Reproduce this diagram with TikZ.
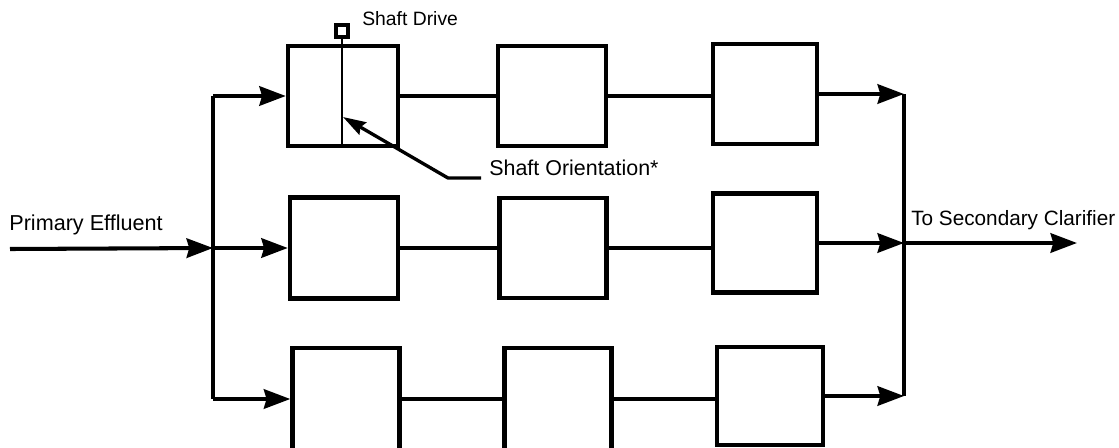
\documentclass[tikz,border=0pt]{standalone}
\usepackage{fontspec}
\setmainfont{Liberation Sans}
\usetikzlibrary{arrows.meta}
\begin{document}
\begin{tikzpicture}[x=0.02cm,y=-0.02cm,
  flow/.style={line width=2.3pt,-{Stealth[length=15pt,width=11pt,inset=1.5pt]}},
  pipe/.style={line width=2.3pt},
  lbl/.style={font=\fontsize{#1}{14}\selectfont,inner sep=0pt,anchor=base west},
  bx/.style 2 args={draw,line width=2.5pt,inner sep=0pt,minimum width=#1*0.02cm,minimum height=#2*0.02cm},
]
\useasboundingbox (0,0) rectangle (1119,447);
% boxes
\node[bx={110}{100}] (b11) at (343,96) {};
\node[bx={108}{100}] (b12) at (552,96) {};
\node[bx={104}{100}] (b13) at (765,94) {};
\node[bx={108}{101}] (b21) at (344,248) {};
\node[bx={107}{100}] (b22) at (553,248) {};
\node[bx={104}{99}]  (b23) at (765,243) {};
\node[bx={107}{102}] (b31) at (346,399) {};
\node[bx={107}{102}] (b32) at (558,399) {};
\node[bx={106}{98}]  (b33) at (770,396) {};
% shaft drive
\node[draw,line width=1.8pt,minimum size=12*0.02cm,inner sep=0pt] (sq) at (342,31) {};
\draw[line width=1.6pt] (sq.south) -- (sq.south |- b11.south);
\coordinate (shaftpt) at (343,117);
\coordinate (corner) at (448,178);
\coordinate (lo) at (481,178);
\draw[line width=1.9pt,-{Stealth[length=13pt,width=8pt,inset=1.5pt]}] (lo) -- (corner) -- (shaftpt);
% labels
\node[lbl=11] (sd) at (362,25) {Shaft Drive};
\node[lbl=12.2] (so) at (489,175) {Shaft Orientation*};
\node[lbl=12.3] (pe) at (9,230) {Primary Effluent};
\node[lbl=11.8] (tsc) at (911,225) {To Secondary Clarifier};
% left distribution
\coordinate (in) at (10,249);
\coordinate (jT) at (213,96);
\coordinate (jM) at (213,248);
\coordinate (jB) at (213,399);
\draw[flow] (in) -- (jM);
\draw[pipe] (jT) -- (jB);
\draw[flow] (jT) -- (b11.west);
\draw[flow] (jM) -- (b21.west);
\draw[flow] (jB) -- (b31.west);
% rows
\draw[pipe] (b11.east) -- (b12.west);
\draw[pipe] (b12.east) -- (b13.west |- b12.east);
\draw[pipe] (b21.east) -- (b22.west);
\draw[pipe] (b22.east) -- (b23.west |- b22.east);
\draw[pipe] (b31.east) -- (b32.west);
\draw[pipe] (b32.east) -- (b33.west |- b32.east);
% right collection
\coordinate (rT) at (904,94);
\coordinate (rM) at (904,243);
\coordinate (rB) at (904,396);
\coordinate (out) at (1077,243);
\draw[pipe] (rT) -- (rB);
\draw[flow] (b13.east) -- (rT);
\draw[flow] (b23.east) -- (rM);
\draw[flow] (b33.east) -- (rB);
\draw[flow] (rM) -- (out);
\end{tikzpicture}
\end{document}
